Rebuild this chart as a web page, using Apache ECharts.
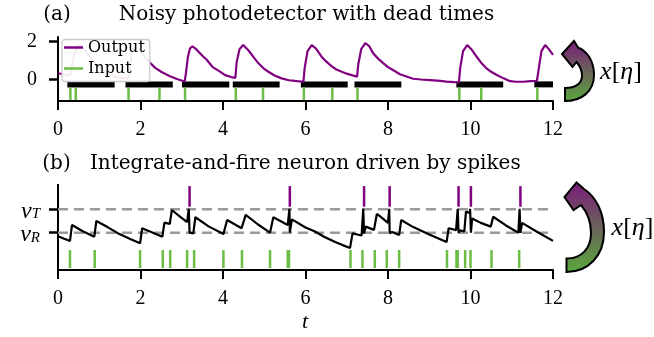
<!DOCTYPE html>
<html><head><meta charset="utf-8">
<script src="https://cdn.jsdelivr.net/npm/echarts@6/dist/echarts.min.js"></script>
<style>html,body{margin:0;padding:0;background:#fff}#c{width:654px;height:337px}</style>
</head><body><div id="c"></div>
<script>
// ---------- data ----------
const xTicks = [0, 2, 4, 6, 8, 10, 12];
const yTicksA = [0, 2];
const levelValues = [0, 1];          // v_R, v_T
const levelNames = ['R', 'T'];

// (a) photodetector output trace [t, value]
const outputTrace = [[0,0.32],[0.1,0.28],[0.2,0.25],[0.3,0.23],[0.33,0.6],[0.4,1.4],[0.5,1.8],[0.6,1.7],[0.8,1.1],[1.0,0.65],[1.2,0.3],[1.4,0.12],[1.6,0.05],[1.71,0.03],[1.74,0.6],[1.8,1.5],[1.88,1.8],[1.96,1.65],[2.08,1.25],[2.2,0.95],[2.35,0.62],[2.5,0.4],[2.7,0.18],[2.9,0.0],[3.07,-0.12],[3.1,0.3],[3.15,1.2],[3.2,1.65],[3.26,1.75],[3.35,1.6],[3.5,1.25],[3.6,1.05],[3.75,0.65],[3.9,0.45],[4.05,0.22],[4.2,0.12],[4.3,0.08],[4.33,0.9],[4.4,1.6],[4.49,1.82],[4.61,1.56],[4.75,1.15],[4.86,0.85],[5.0,0.55],[5.1,0.4],[5.25,0.2],[5.42,0.05],[5.6,-0.05],[5.8,-0.1],[5.95,-0.13],[5.98,0.6],[6.05,1.5],[6.15,1.82],[6.25,1.65],[6.39,1.2],[6.5,0.95],[6.63,0.7],[6.75,0.52],[6.88,0.4],[7.0,0.3],[7.12,0.22],[7.25,0.14],[7.28,0.8],[7.35,1.6],[7.45,1.93],[7.55,1.75],[7.64,1.38],[7.76,1.1],[7.89,0.85],[8.0,0.65],[8.13,0.48],[8.29,0.27],[8.45,0.15],[8.61,0.03],[8.8,-0.01],[9.02,-0.04],[9.2,-0.07],[9.42,-0.12],[9.6,-0.15],[9.72,-0.17],[9.75,0.6],[9.82,1.5],[9.92,1.82],[10.02,1.6],[10.15,1.2],[10.27,0.85],[10.39,0.58],[10.5,0.4],[10.64,0.23],[10.8,0.05],[10.96,-0.1],[11.1,-0.13],[11.28,-0.13],[11.45,-0.1],[11.61,-0.09],[11.65,0.5],[11.72,1.5],[11.81,1.82],[11.9,1.6],[12.0,1.3]];
const inputTimesA = [0.30, 0.43, 1.71, 2.46, 3.08, 4.31, 4.97, 5.96, 6.65, 7.26, 9.73, 10.26, 11.62];
const deadStarts = [0.30, 1.71, 3.08, 4.31, 5.96, 7.26, 9.73, 11.62];
const deadEnds   = [1.30, 2.71, 4.08, 5.30, 6.95, 8.25, 10.72, 12.62];

// (b) integrate-and-fire membrane potential [t, v]
const vTrace = [[0,-0.15],[0.15,-0.26],[0.29,-0.35],[0.34,0.33],[0.6,0.06],[0.88,-0.17],[0.93,0.5],[1.2,0.24],[1.45,-0.02],[1.75,-0.27],[1.99,-0.45],[2.04,0.19],[2.3,0.0],[2.53,-0.17],[2.58,0.43],[2.71,0.38],[2.76,0.97],[2.95,0.7],[3.13,0.45],[3.17,1.02],[3.19,1.02],[3.19,0.0],[3.28,-0.03],[3.33,0.66],[3.65,0.27],[4.01,-0.06],[4.1,0.54],[4.45,0.19],[4.55,0.76],[4.85,0.35],[5.14,0.0],[5.22,0.66],[5.57,0.33],[5.61,1.02],[5.62,1.02],[5.62,0.0],[5.67,0.57],[6.0,0.22],[6.23,0.05],[6.45,-0.17],[6.72,-0.4],[6.9,-0.53],[7.08,-0.65],[7.14,-0.03],[7.36,-0.12],[7.4,1.02],[7.42,1.02],[7.42,-0.03],[7.46,0.26],[7.66,0.12],[7.73,0.8],[7.81,0.7],[8.0,0.42],[8.03,1.02],[8.04,1.02],[8.04,-0.03],[8.1,0.03],[8.27,-0.1],[8.32,0.54],[8.6,0.25],[9.0,-0.08],[9.42,-0.4],[9.47,0.19],[9.65,0.11],[9.69,1.02],[9.71,1.02],[9.71,0.0],[9.75,0.1],[9.85,0.05],[9.89,0.9],[9.98,0.84],[9.99,1.02],[10.01,1.02],[10.01,0.0],[10.04,0.61],[10.25,0.42],[10.49,0.26],[10.55,0.68],[10.85,0.32],[11.16,0.0],[11.19,1.02],[11.21,1.02],[11.21,0.0],[11.25,0.42],[11.6,0.05],[12.0,-0.35]];
const inputTimesB = [0.29, 0.89, 1.99, 2.54, 2.72, 3.13, 3.30, 4.01, 4.46, 5.14, 5.57, 5.60, 7.09, 7.38, 7.68, 7.97, 8.27, 9.43, 9.66, 9.69, 9.87, 10.0, 10.51, 11.18];
const outputSpikesB = [3.19, 5.62, 7.42, 8.04, 9.71, 10.01, 11.21];

// ---------- styling constants ----------
const PURPLE = '#800080', GREEN = '#6cbd45', BLACK = '#000';
const SERIF = '"DejaVu Serif", serif';
const NUMF = '"Liberation Serif", serif';
const X_MIN = 0, X_MAX = 12;
const A_MIN = -1.154, A_MAX = 2.25;
const B_MIN = -1.594, B_MAX = 2.038;
const BAR_Y = -0.27;
const SPK_A = [-0.43, -1.10];
const SPK_B_IN = [-0.74, -1.51];
const SPK_B_OUT = [1.11, 1.99];

// decorative curved arrows (registered shapes)
echarts.graphic.registerShape('arrowA', echarts.graphic.extendPath(
  'M565 101 C581 101 594 92 594 75 C594 61 587 51 578 47.5 L574 41 L562 54 L572.5 67 L576.5 62 C580 66 582 70 582 76 C582 83 576 88 565 88 Z', {}));
echarts.graphic.registerShape('arrowB', echarts.graphic.extendPath(
  'M566.5 272 C588 272 604 256 604 232 C604 212 596 197 584 189 L576.5 182.5 L564.5 197 L573.5 210 L581 205 C587 212 591 222 591 233 C591 248 582 258.5 566.5 258.5 Z', {}));
function arrowFill() {
  return new echarts.graphic.LinearGradient(0, 0, 0, 1, [{ offset: 0, color: '#7a1a7a' }, { offset: 1, color: '#5aaa3c' }]);
}

function vSpike(lo, hi, color, w) {
  return function (params, api) {
    const t = api.value(0);
    const a = api.coord([t, lo]);
    const b = api.coord([t, hi]);
    return { type: 'line', shape: { x1: a[0], y1: a[1], x2: b[0], y2: b[1] },
      style: { stroke: color, lineWidth: w } };
  };
}
function deadBar(params, api) {
  const a = api.coord([api.value(0), BAR_Y]);
  const b = api.coord([api.value(1), BAR_Y]);
  const h = 6;
  const cs = params.coordSys;
  const r = echarts.graphic.clipRectByRect(
    { x: a[0] - 3, y: a[1] - h / 2, width: b[0] - a[0] + 6, height: h },
    { x: cs.x, y: cs.y, width: cs.width, height: cs.height });
  return r && { type: 'rect', shape: r, style: { fill: BLACK } };
}

const axisCommonX = {
  type: 'value', min: X_MIN, max: X_MAX, interval: 2,
  axisLine: { show: true, onZero: false, lineStyle: { color: BLACK, width: 2 } },
  axisTick: { show: true, length: 9, lineStyle: { color: BLACK, width: 2 } },
  axisLabel: { show: true, margin: 19, color: BLACK, fontFamily: NUMF, fontSize: 20, hideOverlap: false,
    showMinLabel: true, showMaxLabel: true },
  splitLine: { show: false }
};

// one y axis per level so the two math labels never compete for space
function levelAxis(level) {
  return { gridIndex: 1, type: 'value', position: 'left', offset: 0, min: B_MIN, max: B_MAX,
    axisLine: { show: true, onZero: false, lineStyle: { color: BLACK, width: 2 } },
    axisTick: { show: true, length: 9, customValues: [level], lineStyle: { color: BLACK, width: 2.5 } },
    axisLabel: { show: true, margin: 18, customValues: [level], color: BLACK,
      hideOverlap: false, showMinLabel: true, showMaxLabel: true,
      formatter: function (v) {
        const i = levelValues.indexOf(v);
        return '{v|v}{s|' + levelNames[i] + '}';
      },
      rich: {
        v: { fontFamily: NUMF, fontStyle: 'italic', fontSize: 24, lineHeight: 14, padding: [4, 0, 0, 0], color: BLACK },
        s: { fontFamily: NUMF, fontStyle: 'italic', fontSize: 15, lineHeight: 8, padding: [10, 0, 0, 0], color: BLACK }
      } },
    splitLine: { show: false } };
}

const option = {
  animation: false,
  backgroundColor: '#fff',
  grid: [
    { left: 58, right: 101, top: 37, height: 64, outerBoundsMode: 'none', containLabel: false },
    { left: 58, right: 101, top: 185, height: 85, outerBoundsMode: 'none', containLabel: false }
  ],
  xAxis: [
    Object.assign({ gridIndex: 0 }, axisCommonX),
    Object.assign({ gridIndex: 1 }, axisCommonX)
  ],
  yAxis: [
    { gridIndex: 0, type: 'value', min: A_MIN, max: A_MAX,
      axisLine: { show: true, onZero: false, lineStyle: { color: BLACK, width: 2 } },
      axisTick: { show: true, length: 9, customValues: yTicksA, lineStyle: { color: BLACK, width: 2.5 } },
      axisLabel: { show: true, margin: 21, customValues: yTicksA, color: BLACK, fontFamily: NUMF, fontSize: 20,
        hideOverlap: false, showMinLabel: true, showMaxLabel: true },
      splitLine: { show: false } },
    levelAxis(levelValues[1]),
    levelAxis(levelValues[0])
  ],
  legend: {
    show: true, orient: 'vertical', left: 62, top: 39.5, padding: [0, 5, 5, 2], itemGap: 5,
    itemWidth: 19, itemHeight: 2.5, selectedMode: false,
    backgroundColor: 'rgba(255,255,255,0.92)', borderColor: '#cccccc', borderWidth: 1.3, borderRadius: 3,
    textStyle: { fontFamily: SERIF, fontSize: 16, color: BLACK, lineHeight: 12 },
    data: [
      { name: 'Output', icon: 'rect', itemStyle: { color: PURPLE, borderWidth: 0 } },
      { name: 'Input', icon: 'rect', itemStyle: { color: GREEN, borderWidth: 0 } }
    ]
  },
  series: [
    { name: 'Dead', type: 'custom', xAxisIndex: 0, yAxisIndex: 0, z: 1,
      data: deadStarts.map((s, i) => [s, deadEnds[i]]), encode: { x: [0, 1] }, renderItem: deadBar },
    { name: 'Input', type: 'custom', xAxisIndex: 0, yAxisIndex: 0, z: 2, itemStyle: { color: GREEN },
      data: inputTimesA.map(t => [t, SPK_A[0]]), encode: { x: 0, y: 1 },
      renderItem: vSpike(SPK_A[0], SPK_A[1], GREEN, 2.5) },
    { name: 'Output', type: 'line', xAxisIndex: 0, yAxisIndex: 0, z: 3, data: outputTrace,
      showSymbol: false, symbol: 'none', itemStyle: { color: PURPLE },
      lineStyle: { color: PURPLE, width: 2.2 } },
    { name: 'vR', type: 'line', xAxisIndex: 1, yAxisIndex: 1, z: 1, symbol: 'none',
      data: [[X_MIN, levelValues[0]], [X_MAX, levelValues[0]]],
      lineStyle: { color: '#9a9a9a', width: 2.4, type: [10, 6] } },
    { name: 'vT', type: 'line', xAxisIndex: 1, yAxisIndex: 1, z: 1, symbol: 'none',
      data: [[X_MIN, levelValues[1]], [X_MAX, levelValues[1]]],
      lineStyle: { color: '#9a9a9a', width: 2.4, type: [10, 6] } },
    { name: 'Voltage', type: 'line', xAxisIndex: 1, yAxisIndex: 1, z: 3, data: vTrace,
      showSymbol: false, symbol: 'none', lineStyle: { color: BLACK, width: 2.2 } },
    { name: 'InputB', type: 'custom', xAxisIndex: 1, yAxisIndex: 1, z: 2,
      data: inputTimesB.map(t => [t, SPK_B_IN[0]]), encode: { x: 0, y: 1 },
      renderItem: vSpike(SPK_B_IN[0], SPK_B_IN[1], GREEN, 2.5) },
    { name: 'OutputB', type: 'custom', xAxisIndex: 1, yAxisIndex: 1, z: 2,
      data: outputSpikesB.map(t => [t, SPK_B_OUT[0]]), encode: { x: 0, y: 1 },
      renderItem: vSpike(SPK_B_OUT[0], SPK_B_OUT[1], PURPLE, 2.5) }
  ],
  graphic: [
    { type: 'text', x: 57, y: 14.5, style: { text: '(a)', font: '20px ' + SERIF, fill: BLACK, align: 'center', verticalAlign: 'middle' } },
    { type: 'text', x: 306.5, y: 14.5, style: { text: 'Noisy photodetector with dead times', font: '20px ' + SERIF, fill: BLACK, align: 'center', verticalAlign: 'middle' } },
    { type: 'text', x: 56.5, y: 163.5, style: { text: '(b)', font: '20px ' + SERIF, fill: BLACK, align: 'center', verticalAlign: 'middle' } },
    { type: 'text', x: 305.3, y: 163.5, style: { text: 'Integrate-and-fire neuron driven by spikes', font: '20px ' + SERIF, fill: BLACK, align: 'center', verticalAlign: 'middle' } },
    { type: 'text', x: 305, y: 322, style: { text: 't', font: 'italic 22px ' + NUMF, fill: BLACK, align: 'center', verticalAlign: 'middle' } },
    { type: 'arrowA', style: { fill: arrowFill(), stroke: BLACK, lineWidth: 2 } },
    { type: 'arrowB', style: { fill: arrowFill(), stroke: BLACK, lineWidth: 2 } },
    { type: 'text', x: 621, y: 72.5, style: { text: '{i|x}[{i|η}]', fill: BLACK, font: '26px ' + NUMF, align: 'center', verticalAlign: 'middle',
      rich: { i: { fontStyle: 'italic', fontSize: 26, fontFamily: NUMF } } } },
    { type: 'text', x: 632.5, y: 228.5, style: { text: '{i|x}[{i|η}]', fill: BLACK, font: '26px ' + NUMF, align: 'center', verticalAlign: 'middle',
      rich: { i: { fontStyle: 'italic', fontSize: 26, fontFamily: NUMF } } } }
  ]
};

const chart = echarts.init(document.getElementById('c'), null, { renderer: 'canvas', width: 654, height: 337 });
chart.setOption(option);
</script>
</body></html>
